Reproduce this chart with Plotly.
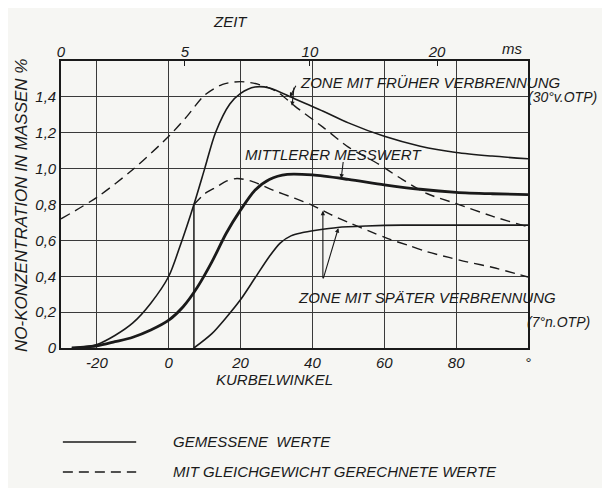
import plotly.graph_objects as go

# ---------------- data ----------------
ANGLE_TICKS = [-20, 0, 20, 40, 60, 80, 100]
ANGLE_TICK_TEXT = ["-20", "0", "20", "40", "60", "80", "°"]
CONC_TICKS = [0, 0.2, 0.4, 0.6, 0.8, 1.0, 1.2, 1.4]
CONC_TICK_TEXT = ["0", "0,2", "0,4", "0,6", "0,8", "1,0", "1,2", "1,4"]
TIME_TICK_ANGLE = [-30, 4.5, 39.3, 74.7]
TIME_TICK_TEXT = ["0", "5", "10", "20"]

# Zone mit früher Verbrennung, gemessen
EARLY_MEAS_X = [-27, -20, -15, -10, -5, 0, 3, 7, 10, 13, 17, 20, 24, 28, 35, 43, 50, 60, 70, 80, 90, 100]
EARLY_MEAS_Y = [0, 0.02, 0.07, 0.14, 0.25, 0.40, 0.56, 0.80, 1.00, 1.20, 1.36, 1.42, 1.455, 1.45, 1.39, 1.32, 1.255, 1.18, 1.125, 1.09, 1.07, 1.055]

# Mittlerer Messwert
MEAN_MEAS_X = [-27, -20, -15, -10, -5, 0, 4, 8, 12, 16, 20, 24, 28, 33, 40, 50, 60, 70, 80, 90, 100]
MEAN_MEAS_Y = [0, 0.012, 0.035, 0.06, 0.10, 0.155, 0.23, 0.34, 0.48, 0.64, 0.77, 0.88, 0.94, 0.968, 0.965, 0.94, 0.91, 0.885, 0.868, 0.86, 0.855]

# Zone mit später Verbrennung, gemessen
LATE_MEAS_X = [7, 12, 16, 20, 24, 28, 31, 34, 37, 41, 47, 55, 65, 80, 100]
LATE_MEAS_Y = [0, 0.08, 0.17, 0.27, 0.39, 0.51, 0.585, 0.625, 0.642, 0.656, 0.672, 0.68, 0.685, 0.685, 0.685]

# Zone mit früher Verbrennung, Gleichgewicht
EARLY_EQ_X = [-30, -20, -10, 0, 5, 10, 15, 20, 25, 30, 35, 43, 50, 58, 65, 72, 80, 90, 100]
EARLY_EQ_Y = [0.72, 0.84, 0.995, 1.18, 1.29, 1.41, 1.47, 1.485, 1.47, 1.43, 1.35, 1.23, 1.12, 1.03, 0.94, 0.86, 0.805, 0.735, 0.675]

# Zone mit später Verbrennung, Gleichgewicht
LATE_EQ_X = [7, 10, 13.5, 16, 19, 23, 29, 35, 40, 45, 50, 56, 61, 67, 72, 78, 83, 90, 100]
LATE_EQ_Y = [0.80, 0.86, 0.90, 0.93, 0.945, 0.93, 0.88, 0.835, 0.795, 0.745, 0.70, 0.65, 0.61, 0.57, 0.536, 0.505, 0.48, 0.45, 0.396]

# Beginn der späten Verbrennung (7° n. OTP)
LATE_START_X = [7, 7]
LATE_START_Y = [0, 0.80]

FONT = "Liberation Sans"
INK = "#1a1a1a"
BG = "#f6f6f3"

fig = go.Figure()

def add_line(x, y, width, dash="solid", name=""):
    fig.add_trace(go.Scatter(
        x=x, y=y, mode="lines", name=name, showlegend=False,
        line=dict(color=INK, width=width, dash=dash, shape="spline", smoothing=0.8),
        hoverinfo="skip"))

add_line(EARLY_EQ_X, EARLY_EQ_Y, 1.4, "10px,6px", "früh, Gleichgewicht")
add_line(LATE_EQ_X, LATE_EQ_Y, 1.4, "10px,6px", "spät, Gleichgewicht")
add_line(EARLY_MEAS_X, EARLY_MEAS_Y, 1.6, name="früh, gemessen")
add_line(MEAN_MEAS_X, MEAN_MEAS_Y, 2.8, name="Mittlerer Messwert")
add_line(LATE_MEAS_X, LATE_MEAS_Y, 1.6, name="spät, gemessen")
fig.add_trace(go.Scatter(x=LATE_START_X, y=LATE_START_Y, mode="lines", showlegend=False,
                         line=dict(color=INK, width=1.5), hoverinfo="skip"))
# carrier for the top time axis
fig.add_trace(go.Scatter(x=TIME_TICK_ANGLE, y=[None] * len(TIME_TICK_ANGLE), xaxis="x2",
                         mode="lines", showlegend=False, hoverinfo="skip"))

tickfont = dict(family=FONT, size=15, color=INK, style="italic")

# the page body adds an 8 px margin; the figure is sized to fill the rest of the window
fig.update_layout(
    width=602, height=480,
    margin=dict(l=53, r=82, t=53, b=140),
    paper_bgcolor=BG, plot_bgcolor=BG,
    font=dict(family=FONT, size=15, color=INK, style="italic"),
    xaxis=dict(range=[-30, 100], tickvals=ANGLE_TICKS, ticktext=ANGLE_TICK_TEXT,
               showgrid=True, gridcolor="#3a3a3a", gridwidth=1, zeroline=False,
               showline=True, linecolor=INK, linewidth=1.6, mirror=True,
               ticks="", tickfont=tickfont),
    xaxis2=dict(range=[-30, 100], overlaying="x", side="top", tickvals=TIME_TICK_ANGLE,
                ticktext=TIME_TICK_TEXT, ticks="inside", ticklen=5, tickcolor=INK,
                showgrid=False, zeroline=False, showline=False, tickfont=tickfont),
    yaxis=dict(range=[0, 1.6], tickvals=CONC_TICKS, ticktext=CONC_TICK_TEXT,
               showgrid=True, gridcolor="#3a3a3a", gridwidth=1, zeroline=False,
               showline=True, linecolor=INK, linewidth=1.6, mirror=True,
               ticks="", tickfont=tickfont),
)

def label(text, x, y, xref="x", yref="y", xanchor="left", size=15, angle=0):
    fig.add_annotation(text=text, x=x, y=y, xref=xref, yref=yref, xanchor=xanchor,
                       yanchor="middle", showarrow=False, textangle=angle,
                       font=dict(family=FONT, size=size, color=INK, style="italic"))

def pointer(x, y, ax, ay):
    fig.add_annotation(text="", x=x, y=y, ax=ax, ay=ay, xref="x", yref="y",
                       axref="x", ayref="y", showarrow=True, arrowhead=2,
                       arrowsize=0.8, arrowwidth=1.1, arrowcolor=INK)

label("ZONE MIT FRÜHER VERBRENNUNG", 36, 1.478)
label("(30°v.OTP)", 0.996, 1.40, xref="paper", size=14)
label("MITTLERER MESSWERT", 20.7, 1.08)
label("ZONE MIT SPÄTER VERBRENNUNG", 35.3, 0.28)
label("(7°n.OTP)", 0.994, 0.145, xref="paper", size=14)

pointer(33.7, 1.40, 35.6, 1.47)
pointer(34.3, 1.35, 34.9, 1.46)
pointer(48.0, 0.945, 48.6, 1.045)
pointer(42.9, 0.765, 42.9, 0.38)
pointer(47.2, 0.668, 42.9, 0.38)

label("ZEIT", 0.362, 1.136, xref="paper", yref="paper", xanchor="center")
label("ms", 0.966, 1.042, xref="paper", yref="paper", xanchor="center")
label("KURBELWINKEL", 0.458, -0.111, xref="paper", yref="paper", xanchor="center")
label("NO-KONZENTRATION IN MASSEN %", -0.0835, 0.495, xref="paper", yref="paper",
      xanchor="center", size=17, angle=-90)

# legend drawn below the chart
fig.add_shape(type="line", xref="paper", yref="paper", x0=0.004, x1=0.161, y0=-0.3275, y1=-0.3275,
              line=dict(color=INK, width=1.6))
fig.add_shape(type="line", xref="paper", yref="paper", x0=0.004, x1=0.161, y0=-0.432, y1=-0.432,
              line=dict(color=INK, width=1.6, dash="10px,6px"))
label("GEMESSENE  WERTE", 0.2355, -0.3275, xref="paper", yref="paper")
label("MIT GLEICHGEWICHT GERECHNETE WERTE", 0.2355, -0.432, xref="paper", yref="paper")

fig.write_html("out.html")
